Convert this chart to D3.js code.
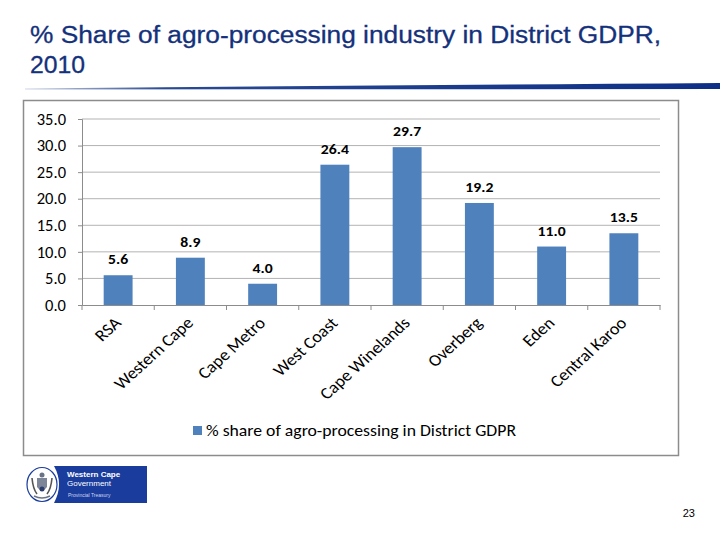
<!DOCTYPE html>
<html><head><meta charset="utf-8">
<script src="https://cdn.jsdelivr.net/npm/d3@7"></script>
<style>body{margin:0;background:#fff}svg{display:block}</style>
</head><body>
<script>
const categories = ["RSA","Western Cape","Cape Metro","West Coast","Cape Winelands","Overberg","Eden","Central Karoo"];
const values = [5.6, 8.9, 4.0, 26.4, 29.7, 19.2, 11.0, 13.5];
const yTicks = [0,5,10,15,20,25,30,35];
const seriesName = "% share of agro-processing in District GDPR";
const titleLines = ["%  Share of agro-processing industry in District GDPR,", "2010"];

const W=720,H=540;
const svg=d3.select("body").append("svg").attr("width",W).attr("height",H);

const defs=svg.append("defs");
const g1=defs.append("linearGradient").attr("id","sw").attr("x1","0").attr("x2","1");
g1.append("stop").attr("offset","0").attr("stop-color","#d0d6e4");
g1.append("stop").attr("offset","0.2").attr("stop-color","#2a4a94");
g1.append("stop").attr("offset","1").attr("stop-color","#0d2f86");

// title
const titleLens=[631,55];
svg.append("g").selectAll("text").data(titleLines).join("text")
  .attr("x",30).attr("y",(d,i)=>43+i*30)
  .attr("textLength",(d,i)=>titleLens[i]).attr("lengthAdjust","spacingAndGlyphs")
  .attr("font-family","Liberation Sans, Arial, sans-serif").attr("font-size",23)
  .attr("stroke","#14317c").attr("stroke-width",0.3)
  .attr("fill","#14317c").text(d=>d);

// swoosh
svg.append("path").attr("d","M25,88.5 Q300,86 720,83 L720,89 L25,89.5 Z").attr("fill","url(#sw)");

// chart frame
svg.append("rect").attr("x",23.5).attr("y",100.5).attr("width",655).attr("height",355)
  .attr("fill","#fff").attr("stroke","#8c8c8c").attr("stroke-width",1.5);

const x=d3.scaleBand().domain(categories).range([82,660]).paddingInner(0.6).paddingOuter(0.3);
const y=d3.scaleLinear().domain([0,35]).range([305,119]);
const font="Carlito, Calibri, 'Open Sans', sans-serif";

// gridlines
svg.append("g").selectAll("line").data(yTicks.filter(t=>t>0)).join("line")
  .attr("x1",82).attr("x2",660).attr("y1",d=>y(d)).attr("y2",d=>y(d))
  .attr("stroke","#b3b3b3").attr("stroke-width",1);

// y axis
const ya=svg.append("g").attr("transform","translate(82,0)")
  .call(d3.axisLeft(y).tickValues(yTicks).tickFormat(d3.format(".1f")).tickSize(4).tickPadding(12));
ya.select(".domain").attr("stroke","#8c8c8c");
ya.selectAll(".tick line").attr("stroke","#8c8c8c");
ya.selectAll("text").attr("font-family",font).attr("font-size",16.5).attr("fill","#000");

// bars
svg.append("g").selectAll("rect").data(values).join("rect")
  .attr("x",(d,i)=>x(categories[i])).attr("width",x.bandwidth())
  .attr("y",d=>y(d)).attr("height",d=>y(0)-y(d)).attr("fill","#4f81bd");

// x axis
const step=(660-82)/categories.length;
const xa=svg.append("g").attr("transform","translate(0,305)")
  .call(d3.axisBottom(x).tickSize(0).tickFormat(""));
xa.select(".domain").attr("stroke","#8c8c8c");
svg.append("g").selectAll("line").data(d3.range(categories.length+1)).join("line")
  .attr("x1",i=>82+i*step).attr("x2",i=>82+i*step).attr("y1",305).attr("y2",310)
  .attr("stroke","#8c8c8c");

// category labels
svg.append("g").selectAll("text").data(categories).join("text")
  .attr("transform",d=>`translate(${x(d)+x.bandwidth()/2+4},${324}) scale(1.1,1) rotate(-45)`)
  .attr("text-anchor","end").attr("font-family",font).attr("font-size",16.5).attr("fill","#000")
  .text(d=>d);

// data labels
svg.append("g").selectAll("text").data(values).join("text")
  .attr("transform",(d,i)=>`translate(${x(categories[i])+x.bandwidth()/2},${y(d)-11}) scale(1.12,1)`)
  .attr("text-anchor","middle").attr("font-family",font).attr("font-size",14)
  .attr("font-weight","bold").attr("fill","#000").text(d=>d3.format(".1f")(d));

// legend
svg.append("rect").attr("x",193).attr("y",426).attr("width",9).attr("height",9).attr("fill","#4f81bd");
svg.append("text").attr("x",206).attr("y",436).attr("font-family",font).attr("font-size",15.5)
  .attr("textLength",310).attr("lengthAdjust","spacingAndGlyphs")
  .attr("fill","#000").text(seriesName);

// logo
const lg=svg.append("g");
lg.append("rect").attr("x",25).attr("y",466).attr("width",122).attr("height",37).attr("fill","#1a3c9c");
lg.append("path").attr("d","M25,466 L54,466 Q64,484 54,503 L25,503 Z").attr("fill","#fff");
lg.append("ellipse").attr("cx",42).attr("cy",484.5).attr("rx",15).attr("ry",17).attr("fill","#fff").attr("stroke","#1a3c9c").attr("stroke-width",1.2);
lg.append("path").attr("d","M37,478 L47,478 L47,487 Q42,494 37,487 Z").attr("fill","#7d8699");
lg.append("circle").attr("cx",42).attr("cy",475).attr("r",2.5).attr("fill","#6a7385");
lg.append("circle").attr("cx",42).attr("cy",489).attr("r",2.5).attr("fill","#2c3e6e");
lg.append("path").attr("d","M32,478 Q33,489 37,494 M52,478 Q51,489 47,494").attr("stroke","#555").attr("fill","none").attr("stroke-width",1.6);
lg.append("path").attr("d","M34,496 Q42,500 50,496").attr("stroke","#6a7385").attr("fill","none").attr("stroke-width",1.5);
lg.append("text").attr("x",67).attr("y",477).attr("font-family","Liberation Sans, Arial").attr("font-size",8).attr("font-weight","bold").attr("fill","#fff").text("Western Cape");
lg.append("text").attr("x",67).attr("y",486).attr("font-family","Liberation Sans, Arial").attr("font-size",8).attr("fill","#fff").text("Government");
lg.append("text").attr("x",68).attr("y",497).attr("font-family","Liberation Sans, Arial").attr("font-size",5).attr("fill","#cdd6f0").text("Provincial Treasury");

svg.append("text").attr("x",695).attr("y",517).attr("text-anchor","end")
  .attr("font-family","Liberation Sans, Arial").attr("font-size",11).attr("fill","#000").text("23");
</script>
</body></html>
